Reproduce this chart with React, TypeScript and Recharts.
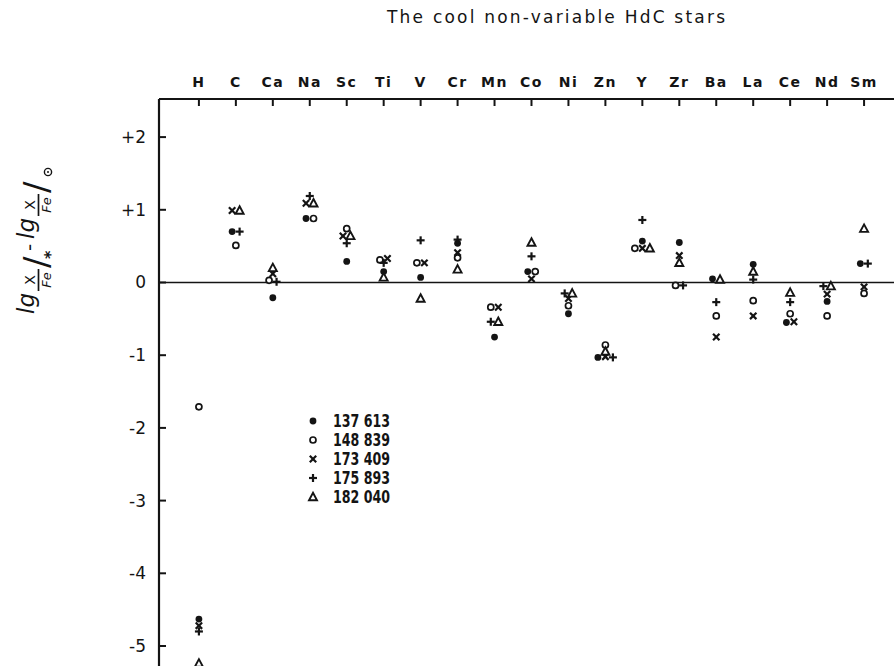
import { ScatterChart, Scatter, XAxis, YAxis, ReferenceLine } from "recharts"

const INK = "#141414"

// elements along the top axis, in plotted order
const ELEMENTS = ["H", "C", "Ca", "Na", "Sc", "Ti", "V", "Cr", "Mn", "Co", "Ni", "Zn", "Y", "Zr", "Ba", "La", "Ce", "Nd", "Sm"]

// [X/Fe] per star, same order as ELEMENTS
const HD137613 = [-4.63, 0.7, -0.21, 0.88, 0.29, 0.15, 0.07, 0.54, -0.75, 0.15, -0.43, -1.03, 0.57, 0.55, 0.05, 0.25, -0.55, -0.26, 0.26]
const HD148839 = [-1.71, 0.51, 0.03, 0.88, 0.74, 0.31, 0.27, 0.34, -0.34, 0.15, -0.32, -0.86, 0.47, -0.04, -0.46, -0.25, -0.43, -0.46, -0.15]
const HD173409 = [-4.72, 0.99, 0.12, 1.09, 0.64, 0.33, 0.27, 0.41, -0.34, 0.05, -0.22, -1.02, 0.47, 0.37, -0.75, -0.46, -0.54, -0.16, -0.06]
const HD175893 = [-4.8, 0.7, 0.01, 1.19, 0.54, 0.27, 0.58, 0.59, -0.54, 0.36, -0.15, -1.03, 0.86, -0.04, -0.27, 0.04, -0.27, -0.05, 0.26]
const HD182040 = [-5.24, 0.99, 0.2, 1.09, 0.64, 0.07, -0.22, 0.18, -0.54, 0.55, -0.15, -0.95, 0.47, 0.27, 0.04, 0.15, -0.14, -0.05, 0.74]

const Y_TICKS = [-5, -4, -3, -2, -1, 0, 1, 2]
const X_TICKS = ELEMENTS.map((_, i) => i)

type MarkerKind = "dot" | "ring" | "cross" | "plus" | "tri"

const STARS: { label: string; values: number[]; marker: MarkerKind }[] = [
  { label: "137 613", values: HD137613, marker: "dot" },
  { label: "148 839", values: HD148839, marker: "ring" },
  { label: "173 409", values: HD173409, marker: "cross" },
  { label: "175 893", values: HD175893, marker: "plus" },
  { label: "182 040", values: HD182040, marker: "tri" },
]

function Marker({ kind, cx, cy }: { kind: MarkerKind; cx: number; cy: number }) {
  switch (kind) {
    case "dot":
      return <circle cx={cx} cy={cy} r={3.4} fill={INK} />
    case "ring":
      return <circle cx={cx} cy={cy} r={3} fill="#fff" stroke={INK} strokeWidth={1.7} />
    case "cross":
      return (
        <g stroke={INK} strokeWidth={2.2}>
          <line x1={cx - 3.2} y1={cy - 3.2} x2={cx + 3.2} y2={cy + 3.2} />
          <line x1={cx - 3.2} y1={cy + 3.2} x2={cx + 3.2} y2={cy - 3.2} />
        </g>
      )
    case "plus":
      return (
        <g stroke={INK} strokeWidth={2.2}>
          <line x1={cx - 4} y1={cy} x2={cx + 4} y2={cy} />
          <line x1={cx} y1={cy - 4} x2={cx} y2={cy + 4} />
        </g>
      )
    default:
      return (
        <polygon
          points={`${cx},${cy - 4.3} ${cx + 4},${cy + 3.2} ${cx - 4},${cy + 3.2}`}
          fill="#fff"
          stroke={INK}
          strokeWidth={1.9}
        />
      )
  }
}

// points of different stars that land on the same value are set side by side
function buildSeries() {
  const shift = new Map<string, number>()
  ELEMENTS.forEach((_, i) => {
    const pts = STARS.map((s, k) => ({ k, v: s.values[i] })).sort((a, b) => b.v - a.v)
    let group: { k: number; v: number }[] = []
    const flush = () => {
      const sorted = [...group].sort((a, b) => a.k - b.k)
      sorted.forEach((p, j) => shift.set(`${p.k}-${i}`, (j - (sorted.length - 1) / 2) * 7.5))
      group = []
    }
    pts.forEach((p) => {
      if (group.length && group[0].v - p.v > 0.035) flush()
      group.push(p)
    })
    flush()
  })
  return STARS.map((s, k) => s.values.map((v, i) => ({ x: i, y: v, dx: shift.get(`${k}-${i}`) ?? 0 })))
}

const SERIES = buildSeries()

const ElementTick = (props: any) => {
  const { x, y, payload } = props
  return (
    <g>
      <line x1={x} y1={y} x2={x} y2={y + 7} stroke={INK} strokeWidth={2} />
      <text
        x={x}
        y={y - 12}
        textAnchor="middle"
        fill={INK}
        fontFamily="'DejaVu Sans', sans-serif"
        fontWeight="bold"
        fontSize={14}
        letterSpacing={1.5}
      >
        {ELEMENTS[payload.value]}
      </text>
    </g>
  )
}

const ValueTick = (props: any) => {
  const { x, y, payload } = props
  const v = payload.value as number
  const label = v > 0 ? `+${v}` : `${v}`
  return (
    <g>
      <line x1={x} y1={y} x2={x + 7} y2={y} stroke={INK} strokeWidth={2} />
      <text
        x={x - 13}
        y={y + 6}
        textAnchor="end"
        fill={INK}
        fontFamily="'DejaVu Sans', sans-serif"
        fontSize={17}
      >
        {label}
      </text>
    </g>
  )
}

// rotated axis title:  lg (X/Fe)/*  -  lg (X/Fe)/sun
function AxisTitle() {
  const font = { fontFamily: "'DejaVu Sans', sans-serif", fill: INK }
  const frac = (u: number) => (
    <g>
      <text x={u} y={35} textAnchor="middle" fontSize={14} {...font}>X</text>
      <line x1={u - 11} y1={38.5} x2={u + 11} y2={38.5} stroke={INK} strokeWidth={1.7} />
      <text x={u} y={51} textAnchor="middle" fontSize={13} fontStyle="italic" {...font}>Fe</text>
    </g>
  )
  return (
    <g transform="rotate(-90)">
      <text x={-314} y={34} fontSize={23} fontStyle="italic" {...font}>lg</text>
      {frac(-280)}
      <text x={-268} y={48} fontSize={34} {...font}>/</text>
      <text x={-259} y={56} fontSize={16} fontWeight="bold" {...font}>*</text>
      <text x={-251} y={36} fontSize={20} {...font}>-</text>
      <text x={-239} y={34} fontSize={23} fontStyle="italic" {...font}>lg</text>
      {frac(-205)}
      <text x={-193} y={48} fontSize={34} {...font}>/</text>
      <circle cx={-172} cy={48} r={3.6} fill="none" stroke={INK} strokeWidth={1.4} />
      <circle cx={-172} cy={48} r={1} fill={INK} />
    </g>
  )
}

function Legend() {
  return (
    <g>
      {STARS.map((s, k) => (
        <g key={s.label}>
          <Marker kind={s.marker} cx={313} cy={421 + k * 19} />
          <text
            x={333}
            y={427 + k * 19}
            textLength={57}
            lengthAdjust="spacingAndGlyphs"
            fill={INK}
            fontFamily="'DejaVu Sans Condensed', 'DejaVu Sans', sans-serif"
            fontWeight="bold"
            fontSize={17}
          >
            {s.label}
          </text>
        </g>
      ))}
    </g>
  )
}

export default function App() {
  return (
    <div style={{ position: "fixed", left: 0, top: 0, width: 894, height: 666, background: "#fff" }}>
      <ScatterChart width={894} height={666} margin={{ top: 69, right: 0, bottom: 0, left: 99 }}>
        <XAxis
          type="number"
          dataKey="x"
          orientation="top"
          height={30}
          domain={[-1.08, 18.81]}
          ticks={X_TICKS}
          allowDataOverflow
          tickLine={false}
          tickSize={0}
          tickMargin={0}
          axisLine={{ stroke: INK, strokeWidth: 2.2 }}
          tick={<ElementTick />}
        />
        <YAxis
          type="number"
          dataKey="y"
          width={60}
          domain={[-5.275, 2.524]}
          ticks={Y_TICKS}
          allowDataOverflow
          tickLine={false}
          tickSize={0}
          tickMargin={0}
          axisLine={{ stroke: INK, strokeWidth: 2.2 }}
          tick={<ValueTick />}
        />
        <ReferenceLine y={0} stroke={INK} strokeWidth={1.6} />
        {STARS.map((s, k) => (
          <Scatter
            key={s.label}
            name={s.label}
            data={SERIES[k]}
            isAnimationActive={false}
            shape={(p: any) => <Marker kind={s.marker} cx={p.cx + (p.payload?.dx ?? 0)} cy={p.cy} />}
          />
        ))}
      </ScatterChart>
      <svg width={894} height={666} style={{ position: "absolute", left: 0, top: 0, pointerEvents: "none" }}>
        <text
          x={387}
          y={23}
          textLength={338}
          lengthAdjust="spacing"
          fill={INK}
          fontFamily="'DejaVu Sans', sans-serif"
          fontSize={17}
        >
          The cool non-variable HdC stars
        </text>
        <AxisTitle />
        <Legend />
      </svg>
    </div>
  )
}
